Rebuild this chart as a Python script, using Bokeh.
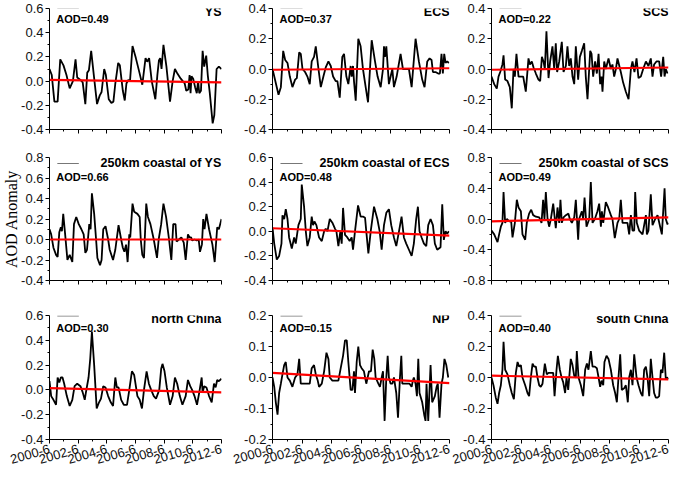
import math
from bokeh.plotting import figure
from bokeh.layouts import gridplot
from bokeh.models import Range1d, FixedTicker, PrintfTickFormatter, Label, BoxAnnotation
from bokeh.embed import file_html
from bokeh.resources import INLINE

# ---------------- data ----------------
x_tick_months = [0, 24, 48, 72, 96, 120, 144]
x_tick_labels = ["2000-6", "2002-6", "2004-6", "2006-6", "2008-6", "2010-6", "2012-6"]
x_minor_months = [12, 36, 60, 84, 108, 132]

panel_names = ["YS", "ECS", "SCS",
               "250km coastal of YS", "250km coastal of ECS", "250km coastal of SCS",
               "north China", "NP", "south China"]
mean_aod = ["0.49", "0.37", "0.22", "0.66", "0.48", "0.49", "0.30", "0.15", "0.40"]
y_limits = [(-0.4, 0.6), (-0.4, 0.4), (-0.4, 0.4),
            (-0.4, 0.8), (-0.4, 0.6), (-0.8, 0.8),
            (-0.4, 0.6), (-0.2, 0.2), (-0.4, 0.4)]
y_steps = [0.2, 0.2, 0.2, 0.2, 0.2, 0.4, 0.2, 0.1, 0.2]
trend_start = [0.01, -0.005, -0.005, 0.0, 0.025, -0.03, 0.015, 0.015, 0.012]
trend_end = [-0.01, 0.005, 0.01, 0.0, -0.035, 0.02, -0.02, -0.018, -0.012]
y_axis_title = "AOD Anomaly"

# (month since 2000-6, AOD anomaly)
ys_pts = [(0,0.10),(1.9,0.05),(4.1,-0.17),(6.8,-0.17),(9.0,0.18),(11.7,0.13),(14.2,0.05),(16.9,-0.06),(19.6,0.0),(21.8,0.18),(23.2,0.03),(25.9,0.01),(27.8,-0.01),(30.0,-0.19),(31.6,0.07),(33.0,0.09),(34.9,0.25),(37.1,0.05),(39.8,-0.19),(42.0,-0.12),(43.6,-0.09),(45.8,0.10),(47.2,0.05),(49.6,-0.15),(51.8,-0.18),(53.5,-0.17),(55.1,-0.02),(57.5,0.15),(58.9,0.13),(61.4,-0.08),(63.0,-0.16),(64.4,-0.02),(66.0,0.01),(67.4,0.0),(69.5,0.29),(72.3,0.19),(75.3,0.07),(77.7,-0.03),(80.4,0.19),(81.8,0.16),(83.4,0.19),(85.6,0.0),(88.6,-0.15),(90.3,0.05),(91.6,0.17),(92.7,0.19),(93.8,0.10),(95.4,0.30),(97.9,0.12),(100.9,-0.17),(103.1,0.0),(105.0,0.10),(107.2,0.06),(109.9,0.02),(113.2,-0.02),(114.5,-0.08),(116.2,-0.07),(117.3,0.05),(118.1,-0.10),(118.9,0.04),(120.3,0.02),(121.9,-0.05),(123.3,-0.10),(124.4,0.0),(125.4,-0.10),(126.8,-0.08),(128.2,0.25),(129.5,0.12),(131.2,0.21),(132.5,0.05),(134.2,-0.10),(136.6,-0.35),(138.0,-0.28),(139.9,0.10),(141.8,0.12),(144.0,0.10)]
ecs_pts = [(0,0.0),(4.9,-0.17),(6.8,-0.12),(8.7,0.12),(10.3,0.06),(12.2,0.04),(14.1,-0.05),(16.2,-0.12),(18.4,-0.07),(19.8,-0.06),(21.7,0.11),(23.0,0.10),(24.4,0.0),(26.5,-0.02),(28.4,-0.05),(30.3,-0.10),(31.9,0.05),(33.8,0.08),(35.2,0.15),(37.4,0.0),(39.3,-0.12),(41.4,-0.05),(43.3,0.01),(45.5,0.05),(47.4,0.02),(49.3,-0.05),(51.4,-0.08),(52.8,-0.08),(54.7,-0.19),(56.8,0.08),(58.2,0.10),(60.1,-0.05),(61.7,-0.10),(63.6,0.02),(64.4,-0.05),(65.5,0.02),(66.3,-0.08),(67.7,-0.21),(69.8,0.20),(71.7,0.15),(73.6,0.0),(75.8,-0.12),(77.7,-0.22),(80.7,0.19),(83.4,0.05),(85.5,-0.05),(88.0,-0.12),(89.9,0.0),(90.7,0.15),(91.5,0.08),(92.6,0.15),(94.7,-0.10),(96.1,-0.05),(97.5,0.0),(98.8,-0.12),(101.0,-0.05),(104.2,0.10),(106.1,0.0),(108.3,0.0),(111.0,0.0),(113.2,-0.12),(116.4,0.20),(119.1,0.05),(121.8,-0.07),(123.7,-0.12),(125.9,0.05),(127.8,0.07),(129.4,0.06),(130.5,-0.02),(132.6,-0.02),(134.8,-0.03),(136.2,-0.03),(137.5,0.10),(138.6,-0.03),(139.7,0.10),(140.8,0.04),(142.1,0.05),(143.5,0.04)]
scs_pts = [(0,-0.05),(2.2,-0.10),(4.3,-0.13),(5.7,-0.05),(7.1,-0.02),(8.9,0.03),(9.8,0.09),(11.1,-0.07),(13.0,-0.08),(14.9,-0.12),(16.5,-0.26),(17.9,0.0),(19.0,-0.05),(20.3,0.10),(22.0,-0.05),(23.9,-0.05),(25.8,-0.05),(27.9,-0.15),(30.1,0.07),(31.2,0.03),(32.8,0.05),(34.2,0.01),(36.1,-0.03),(38.2,-0.07),(39.6,-0.08),(41.0,0.08),(42.3,0.05),(43.4,0.0),(44.7,0.25),(46.4,-0.06),(47.7,0.05),(49.6,0.15),(51.0,0.0),(52.3,0.17),(53.4,-0.02),(55.1,0.05),(57.2,0.18),(58.6,-0.02),(60.5,0.02),(61.8,0.15),(63.2,0.02),(64.5,0.07),(65.9,-0.05),(67.3,-0.10),(68.6,0.15),(70.5,-0.07),(71.9,0.08),(73.5,0.12),(75.4,0.17),(76.7,-0.05),(78.1,-0.20),(80.3,0.12),(81.4,0.10),(82.7,-0.05),(84.3,0.05),(85.7,-0.03),(87.1,0.10),(88.4,-0.10),(89.5,-0.05),(90.3,-0.15),(91.7,0.05),(93.0,0.0),(95.2,0.07),(97.1,0.0),(98.4,0.03),(99.8,-0.05),(101.2,0.0),(102.5,0.07),(105.2,-0.02),(107.1,-0.09),(109.3,-0.15),(111.5,-0.20),(113.4,0.0),(114.7,0.05),(116.3,-0.02),(118.0,0.07),(119.6,-0.06),(121.5,-0.05),(123.4,0.0),(125.6,0.05),(127.7,0.02),(129.6,0.07),(131.0,-0.05),(132.3,0.03),(134.2,0.05),(136.4,0.05),(138.0,-0.05),(139.7,0.08),(140.8,-0.05),(141.8,0.0),(143.2,-0.03)]
ys250_pts = [(0,0.10),(1.4,0.05),(3.3,-0.08),(5.5,-0.15),(6.8,-0.17),(8.2,0.07),(9.5,0.12),(10.4,0.08),(11.5,0.25),(13.1,0.05),(15.0,-0.20),(16.9,-0.15),(19.1,-0.22),(20.5,0.15),(22.4,0.22),(24.5,0.15),(26.7,0.10),(28.6,0.05),(30.0,-0.13),(31.4,-0.10),(33.3,0.15),(34.4,0.10),(35.5,0.45),(37.4,0.25),(39.0,0.0),(40.1,-0.18),(42.3,-0.25),(43.6,-0.20),(45.0,0.10),(46.9,0.13),(49.1,0.0),(50.4,-0.10),(53.2,-0.20),(55.1,-0.10),(57.8,0.14),(60.0,0.0),(61.4,-0.08),(62.7,-0.12),(64.1,-0.05),(65.4,-0.22),(66.8,0.05),(67.6,0.02),(69.5,0.35),(70.9,0.27),(73.6,0.25),(75.5,0.22),(76.4,0.0),(77.7,-0.15),(79.1,-0.18),(81.0,0.35),(82.4,0.22),(84.5,0.15),(87.3,0.0),(90.0,-0.18),(91.4,0.0),(93.5,0.15),(95.4,0.35),(97.6,0.22),(100.1,0.0),(102.0,-0.20),(103.6,0.15),(105.5,0.15),(106.4,-0.02),(108.3,0.0),(110.4,0.02),(112.4,-0.03),(114.0,-0.20),(115.9,0.05),(117.3,0.02),(118.6,0.02),(119.4,-0.01),(121.4,0.0),(123.3,-0.01),(124.9,0.0),(126.0,-0.12),(127.6,-0.05),(128.7,0.20),(129.8,0.10),(131.4,0.25),(133.6,0.10),(136.4,-0.05),(138.3,-0.22),(140.4,0.12),(141.8,0.10),(144.0,0.20)]
ecs250_pts = [(0,0.03),(1.4,-0.10),(3.5,-0.23),(5.4,-0.20),(7.3,-0.10),(8.1,0.13),(9.5,0.10),(10.8,0.18),(12.2,0.10),(13.5,-0.05),(15.7,-0.14),(17.6,-0.05),(18.9,-0.10),(21.1,0.05),(23.0,0.10),(23.8,0.38),(25.7,0.20),(27.1,0.0),(28.4,-0.12),(30.3,-0.05),(31.9,0.12),(33.0,0.05),(34.1,0.08),(35.7,0.05),(37.9,-0.05),(40.1,-0.08),(42.0,0.0),(43.3,0.02),(44.7,0.0),(46.6,0.10),(48.7,0.07),(50.9,0.02),(52.0,0.0),(53.6,-0.12),(55.2,0.0),(56.3,-0.10),(57.4,0.19),(59.0,-0.03),(60.9,-0.05),(62.8,-0.08),(64.4,-0.05),(65.5,-0.15),(67.1,0.0),(69.6,0.21),(71.7,0.12),(73.6,0.12),(75.3,0.11),(76.3,0.0),(78.0,-0.18),(79.9,0.0),(82.6,0.20),(85.3,0.10),(87.2,0.0),(88.8,-0.15),(90.7,0.05),(92.6,0.15),(94.7,0.18),(96.6,0.05),(98.8,-0.05),(100.7,-0.12),(102.9,0.0),(105.0,0.12),(106.9,-0.05),(108.8,-0.10),(111.0,-0.15),(113.2,-0.20),(115.0,-0.10),(116.9,0.10),(118.3,0.20),(119.6,0.0),(121.3,-0.05),(123.2,-0.10),(125.1,-0.12),(126.7,0.05),(128.6,0.10),(130.5,0.05),(132.1,-0.10),(134.0,-0.15),(136.7,-0.13),(138.1,0.22),(139.4,-0.07),(140.8,0.0),(142.1,-0.02),(143.5,0.0)]
scs250_pts = [(0,-0.15),(2.2,-0.20),(4.9,-0.30),(6.2,-0.20),(7.6,-0.10),(8.9,-0.05),(9.8,0.35),(11.1,-0.05),(12.5,0.0),(14.4,-0.03),(16.0,-0.03),(17.1,-0.24),(19.0,-0.05),(20.6,0.25),(22.0,0.15),(23.9,0.10),(25.2,-0.20),(27.4,-0.27),(28.7,-0.05),(30.6,0.07),(32.3,0.12),(33.9,0.05),(36.1,0.03),(38.8,0.02),(40.7,-0.05),(42.0,0.25),(43.1,0.0),(44.2,0.35),(45.6,0.0),(46.9,-0.10),(48.3,0.0),(50.2,0.20),(52.3,-0.12),(53.7,0.15),(55.1,-0.05),(56.1,0.25),(57.2,-0.05),(58.6,0.02),(60.5,0.05),(62.6,0.07),(63.7,0.0),(65.4,-0.05),(67.3,0.02),(68.6,0.25),(70.5,-0.27),(71.3,0.0),(73.5,0.10),(74.6,0.0),(75.7,0.28),(77.3,-0.10),(79.5,0.0),(80.8,0.48),(82.2,-0.05),(84.1,0.0),(86.2,0.10),(87.6,0.20),(89.0,-0.10),(89.8,0.10),(90.9,-0.05),(91.7,0.05),(93.0,0.22),(94.9,0.15),(97.1,0.05),(98.4,0.0),(100.3,-0.25),(102.5,-0.05),(103.9,0.0),(105.2,0.25),(106.6,-0.05),(108.8,-0.05),(110.6,-0.05),(112.0,-0.20),(113.4,0.05),(114.7,-0.15),(116.1,-0.15),(116.9,0.35),(118.2,-0.05),(120.1,-0.15),(122.9,-0.20),(125.6,0.05),(126.4,-0.20),(127.7,-0.15),(129.6,0.32),(131.0,-0.08),(133.2,0.0),(135.1,0.05),(137.2,-0.10),(138.6,-0.20),(140.8,0.40),(141.8,0.0),(143.2,-0.07),(144.0,-0.05)]
nchina_pts = [(0,0.07),(1.4,-0.05),(3.3,-0.08),(5.5,-0.12),(6.8,0.10),(8.2,0.06),(9.5,0.10),(10.9,0.10),(12.3,0.05),(14.5,-0.05),(16.9,-0.13),(19.1,-0.08),(21.0,0.03),(23.2,0.05),(25.9,0.03),(27.8,-0.02),(29.5,-0.08),(30.5,-0.02),(32.7,0.10),(34.1,0.25),(35.5,0.47),(37.4,0.20),(39.5,-0.15),(41.5,-0.10),(43.1,-0.07),(45.0,0.03),(46.9,0.02),(49.1,-0.05),(51.3,-0.10),(53.2,-0.13),(55.1,0.10),(56.4,0.02),(57.8,0.02),(60.0,-0.08),(62.2,-0.12),(64.9,-0.12),(66.8,0.0),(69.0,0.15),(70.9,0.12),(73.6,-0.05),(75.5,-0.08),(77.4,-0.15),(79.1,0.0),(81.3,0.15),(83.2,0.05),(85.1,0.0),(87.3,-0.05),(89.2,-0.07),(91.9,0.0),(93.5,0.17),(94.6,0.21),(96.3,0.15),(98.2,0.02),(100.9,-0.12),(103.1,-0.05),(105.0,0.10),(106.9,0.05),(109.1,-0.05),(111.3,-0.12),(114.0,-0.05),(115.9,0.08),(117.8,0.03),(119.4,0.0),(121.4,-0.05),(123.5,-0.12),(125.4,-0.02),(127.4,0.10),(128.2,-0.02),(129.5,0.03),(131.4,0.02),(133.6,-0.05),(135.8,-0.10),(137.7,0.05),(139.1,0.02),(140.4,0.08),(141.8,0.07),(144.0,0.09)]
np_pts = [(0,0.0),(1.4,-0.03),(2.7,-0.08),(4.1,-0.12),(5.4,-0.05),(6.8,-0.02),(8.1,0.01),(9.5,0.04),(10.8,0.05),(12.2,0.0),(14.1,-0.01),(16.2,-0.03),(18.4,0.0),(20.3,0.01),(21.7,0.06),(23.0,-0.02),(24.9,-0.02),(27.1,-0.02),(28.4,-0.02),(30.3,-0.02),(31.9,0.03),(33.8,0.04),(35.2,0.01),(36.8,-0.01),(37.9,-0.03),(40.1,-0.02),(42.0,0.02),(43.9,0.08),(45.5,0.06),(46.6,0.0),(48.7,-0.01),(51.4,-0.01),(53.6,-0.01),(55.5,0.03),(57.4,0.07),(59.0,0.12),(60.4,0.12),(61.7,0.05),(63.6,-0.04),(65.0,-0.04),(66.3,0.02),(67.1,-0.05),(68.5,0.05),(69.8,0.10),(71.2,0.04),(72.5,0.03),(74.4,0.02),(76.3,-0.02),(78.5,0.02),(80.1,0.02),(81.5,0.09),(82.8,0.06),(83.9,0.0),(86.1,-0.02),(87.4,-0.03),(88.8,0.0),(89.9,0.02),(91.2,-0.14),(92.6,0.0),(93.7,0.07),(94.7,0.0),(96.1,-0.02),(97.5,-0.02),(98.8,0.0),(100.7,-0.05),(102.1,-0.13),(103.7,0.0),(104.8,0.07),(105.6,-0.02),(107.7,-0.02),(109.6,-0.02),(111.5,-0.02),(113.2,-0.03),(114.2,-0.01),(115.0,0.0),(116.4,-0.02),(117.5,-0.06),(118.6,0.06),(119.6,-0.05),(121.8,-0.08),(123.4,-0.12),(124.5,-0.14),(125.3,-0.02),(126.7,-0.14),(128.6,0.04),(129.9,-0.08),(132.1,-0.06),(133.5,-0.03),(134.5,-0.02),(135.9,-0.13),(137.5,-0.02),(138.6,0.0),(139.9,0.06),(141.4,0.04),(143.0,0.0)]
schina_pts = [(0,0.0),(1.6,-0.05),(3.5,-0.13),(4.9,-0.17),(6.2,-0.10),(7.6,-0.05),(8.9,0.05),(9.8,0.23),(11.1,0.05),(13.0,0.02),(14.9,-0.05),(16.5,-0.10),(18.2,-0.14),(19.8,0.03),(21.2,0.10),(22.5,0.07),(23.9,0.08),(25.2,0.0),(27.4,-0.05),(29.3,-0.10),(30.6,-0.12),(32.0,0.0),(33.4,0.09),(34.7,0.07),(36.1,0.07),(37.4,0.0),(38.8,-0.05),(40.1,-0.06),(41.5,-0.04),(43.4,0.09),(45.0,0.02),(46.4,0.03),(48.3,0.03),(50.2,0.03),(51.3,-0.12),(52.9,0.05),(54.0,0.14),(55.6,0.05),(57.0,0.0),(58.3,-0.03),(59.9,-0.10),(61.0,0.0),(62.4,-0.08),(64.5,0.12),(65.9,0.08),(67.3,0.01),(68.6,0.0),(69.4,0.17),(70.8,0.0),(72.7,-0.05),(74.6,-0.12),(76.2,0.05),(77.6,0.09),(78.9,0.05),(80.8,0.17),(82.2,0.07),(84.1,0.07),(85.7,0.06),(87.1,0.0),(88.4,-0.06),(89.5,-0.02),(90.9,-0.05),(91.9,0.10),(93.6,0.14),(95.2,0.12),(97.1,0.05),(99.0,-0.05),(100.6,-0.10),(102.0,-0.16),(103.3,0.0),(104.7,0.15),(106.0,-0.08),(107.9,-0.07),(109.3,-0.05),(110.9,-0.16),(112.0,0.0),(113.4,0.05),(114.7,-0.05),(116.1,0.15),(118.0,0.0),(119.6,-0.05),(121.5,-0.10),(122.9,-0.12),(124.2,0.05),(125.6,0.07),(126.9,0.0),(128.3,-0.12),(129.6,0.12),(131.0,0.0),(132.3,-0.10),(133.7,-0.13),(135.1,-0.13),(136.4,-0.12),(137.8,0.05),(139.1,0.03),(140.5,0.16),(141.8,-0.01),(142.7,0.0),(144.0,-0.01)]

series = [ys_pts, ecs_pts, scs_pts, ys250_pts, ecs250_pts, scs250_pts, nchina_pts, np_pts, schina_pts]

# ---------------- layout / style ----------------
FONT = "Liberation Sans"
col_left = [45, 47, 40]
col_frame = [176, 177, 177]
col_right = [4, 2, 1]
row_top = [8, 6, 12]
row_frame = [121, 123, 124]
row_bottom = [22, 23, 40]
title_drop = [3, 5, 3]
aod_drop = [10, 19, 12]
overline_drop = [-0.5, 6, 0.5]

figs = [[None] * 3 for _ in range(3)]
for i in range(9):
    r, c = divmod(i, 3)
    y0, y1 = y_limits[i]
    fw, fh = col_frame[c], row_frame[r]
    xr = Range1d(x_tick_months[0], x_tick_months[-1])
    p = figure(width=col_left[c] + fw + col_right[c],
               height=row_top[r] + fh + row_bottom[r],
               x_range=xr, y_range=Range1d(y0, y1),
               output_backend="svg", toolbar_location=None,
               min_border_left=col_left[c], min_border_right=col_right[c],
               min_border_top=row_top[r], min_border_bottom=row_bottom[r])
    p.outline_line_color = None
    p.grid.visible = False
    p.background_fill_color = "white"
    p.border_fill_color = "white"

    xs = [pt[0] for pt in series[i]]
    yv = [pt[1] for pt in series[i]]
    p.line(xs, yv, line_color="black", line_width=1.8)
    p.line([x_tick_months[0], x_tick_months[-1]], [trend_start[i], trend_end[i]],
           line_color="#ff0000", line_width=2.2)

    step = y_steps[i]
    n = int(round((y1 - y0) / step))
    major = [round(y0 + k * step, 3) + 0.0 for k in range(n + 1)]
    minor = [round(y0 + (k + 0.5) * step, 3) + 0.0 for k in range(n)]
    p.yaxis.ticker = FixedTicker(ticks=major, minor_ticks=minor)
    p.yaxis.formatter = PrintfTickFormatter(format="%.1f")
    p.xaxis.ticker = FixedTicker(ticks=x_tick_months, minor_ticks=x_minor_months)
    p.xaxis.major_label_overrides = {m: lab for m, lab in zip(x_tick_months, x_tick_labels)}

    for ax in (p.xaxis[0], p.yaxis[0]):
        ax.axis_line_color = "black"
        ax.axis_line_width = 1
        ax.major_tick_line_color = "black"
        ax.minor_tick_line_color = "black"
        ax.major_tick_in = 0
        ax.major_tick_out = 4
        ax.minor_tick_in = 0
        ax.minor_tick_out = 2
        ax.major_label_text_font = FONT
        ax.major_label_text_font_size = "13px"
        ax.major_label_text_color = "#111111"
        ax.major_label_standoff = 2
    if r < 2:
        p.xaxis.major_label_text_color = None
    else:
        p.xaxis.major_label_orientation = 0.28
        p.xaxis.major_label_standoff = 5

    if i == 3:
        p.yaxis.axis_label = y_axis_title
        p.yaxis.axis_label_text_font = "Liberation Serif"
        p.yaxis.axis_label_text_font_size = "16px"
        p.yaxis.axis_label_text_font_style = "normal"
        p.yaxis.axis_label_text_color = "black"
        p.yaxis.axis_label_standoff = -2

    pxx = (x_tick_months[-1] - x_tick_months[0]) / fw
    pxy = (y1 - y0) / fh
    p.add_layout(Label(x=x_tick_months[-1], y=y1 - title_drop[r] * pxy, text=panel_names[i],
                       text_align="right", text_baseline="alphabetic",
                       text_font=FONT, text_font_style="bold", text_font_size="12.5px",
                       text_color="black"))
    p.add_layout(Label(x=7 * pxx, y=y1 - aod_drop[r] * pxy, text="AOD=" + mean_aod[i],
                       text_align="left", text_baseline="alphabetic",
                       text_font=FONT, text_font_style="bold", text_font_size="11px",
                       text_color="black"))
    oy = y1 - overline_drop[r] * pxy
    p.add_layout(BoxAnnotation(left=8 * pxx, right=30 * pxx, top=oy + 0.6 * pxy,
                               bottom=oy - 0.6 * pxy, fill_color="#777777",
                               fill_alpha=1.0, line_color=None))
    figs[r][c] = p

grid = gridplot(figs, toolbar_location=None)
open("out.html", "w").write(file_html(grid, INLINE))
